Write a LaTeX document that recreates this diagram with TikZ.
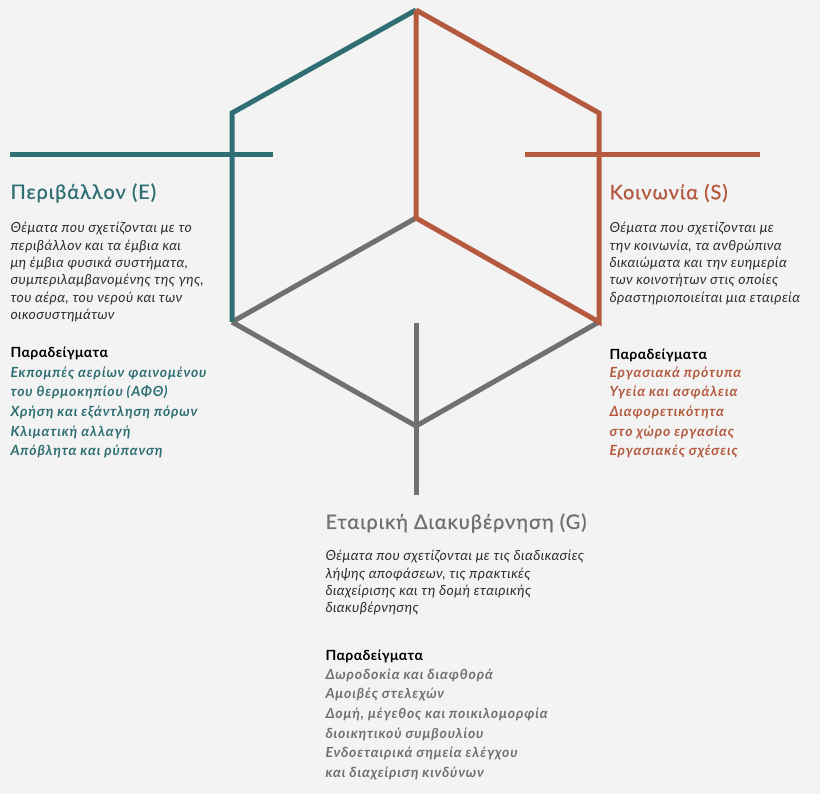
\documentclass[tikz,border=0pt]{standalone}
\usepackage{fontspec}
\setmainfont{Lato}
\definecolor{bgcol}{RGB}{243,243,243}
\definecolor{envcol}{RGB}{47,111,115}
\definecolor{soccol}{RGB}{181,90,63}
\definecolor{govcol}{RGB}{112,112,112}
\definecolor{txtcol}{RGB}{45,45,45}
\begin{document}
\begin{tikzpicture}
  [x=1pt,y=-1pt,line width=5pt,
   head/.style={anchor=west,inner sep=0pt,
     font=\fontsize{20}{22}\selectfont\addfontfeature{LetterSpace=5,FakeBold=0.8}},
   body/.style={anchor=north west,inner sep=0pt,align=left,text=txtcol,
     font=\fontsize{14}{17.3}\selectfont\itshape\addfontfeature{LetterSpace=3}},
   exhead/.style={anchor=west,inner sep=0pt,text=black,
     font=\fontsize{14}{15}\selectfont\bfseries\addfontfeature{LetterSpace=3}},
   exlist/.style={anchor=north west,inner sep=0pt,align=left,
     font=\fontsize{14}{19.7}\selectfont\itshape\bfseries\addfontfeature{LetterSpace=6}}]
  \fill[bgcol] (0,0) rectangle (820,794);
  \useasboundingbox (0,0) rectangle (820,794);

  % hexagon corners
  \coordinate (top) at (416,10);
  \coordinate (ul) at (232,113);
  \coordinate (ll) at (232,322);
  \coordinate (ur) at (599,113);
  \coordinate (lr) at (599,322);
  \coordinate (mid) at (416,218);
  \coordinate (bot) at (416,426);
  \coordinate (envA) at (10,155);
  \coordinate (envB) at (273,155);
  \coordinate (socA) at (525,155);
  \coordinate (socB) at (760,155);
  \coordinate (govA) at (416,323);
  \coordinate (govB) at (416,495);

  \path[draw,line join=miter]
    (ll) edge [color=govcol] (mid)
    (govA) edge [color=govcol] (govB);
  \draw[govcol,line join=miter] (ll) -- (bot) -- (lr);
  \draw[envcol,line join=miter] (ll) -- (ul) -- (top);
  \draw[envcol] (envA) -- (envB);
  \draw[soccol,line join=miter] (top) -- (ur) -- (lr) -- (mid) -- (top);
  \draw[soccol] (socA) -- (socB);

  % environment
  \node[head,text=envcol] (envH) at (8,193) {Περιβάλλον (E)};
  \node[body] (envT) at (8,220) {Θέματα που σχετίζονται με το\\
    περιβάλλον και τα έμβια και\\
    μη έμβια φυσικά συστήματα,\\
    συμπεριλαμβανομένης της γης,\\
    του αέρα, του νερού και των\\
    οικοσυστημάτων};
  \node[exhead] (envP) at (8,353) {Παραδείγματα};
  \node[exlist,text=envcol] (envL) at (8,364) {Εκπομπές αερίων φαινομένου\\
    του θερμοκηπίου (ΑΦΘ)\\
    Χρήση και εξάντληση πόρων\\
    Κλιματική αλλαγή\\
    Απόβλητα και ρύπανση};

  % society
  \node[head,text=soccol] (socH) at (607,193) {Κοινωνία (S)};
  \node[body] (socT) at (607,220) {Θέματα που σχετίζονται με\\
    την κοινωνία, τα ανθρώπινα\\
    δικαιώματα και την ευημερία\\
    των κοινοτήτων στις οποίες\\
    δραστηριοποιείται μια εταιρεία};
  \node[exhead] (socP) at (607,355) {Παραδείγματα};
  \node[exlist,text=soccol] (socL) at (607,364) {Εργασιακά πρότυπα\\
    Υγεία και ασφάλεια\\
    Διαφορετικότητα\\
    στο χώρο εργασίας\\
    Εργασιακές σχέσεις};

  % governance
  \node[head,text=govcol] (govH) at (323,523) {Εταιρική Διακυβέρνηση (G)};
  \node[body] (govT) at (323,548) {Θέματα που σχετίζονται με τις διαδικασίες\\
    λήψης αποφάσεων, τις πρακτικές\\
    διαχείρισης και τη δομή εταιρικής\\
    διακυβέρνησης};
  \node[exhead] (govP) at (323,656) {Παραδείγματα};
  \node[exlist,text=govcol] (govL) at (323,666) {Δωροδοκία και διαφθορά\\
    Αμοιβές στελεχών\\
    Δομή, μέγεθος και ποικιλομορφία\\
    διοικητικού συμβουλίου\\
    Ενδοεταιρικά σημεία ελέγχου\\
    και διαχείριση κινδύνων};
\end{tikzpicture}
\end{document}
